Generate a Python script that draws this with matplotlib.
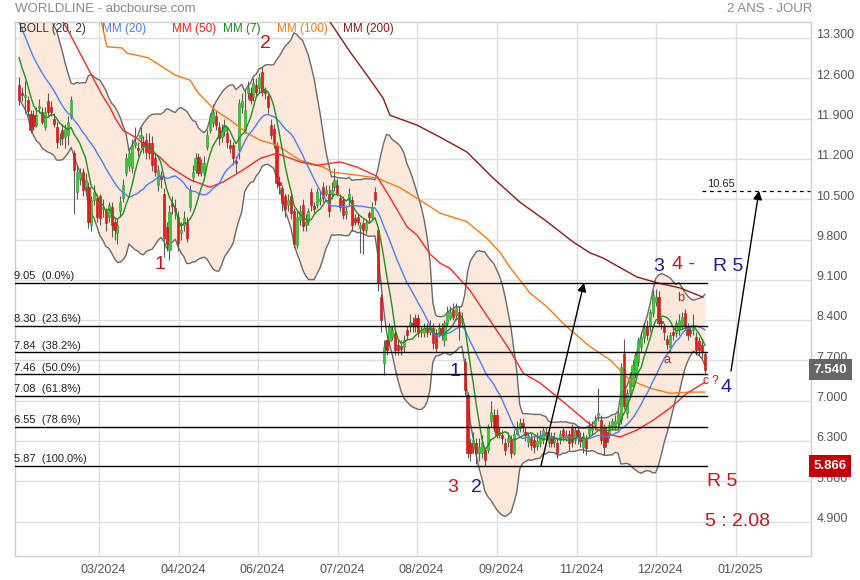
import numpy as np
import pandas as pd
import matplotlib
matplotlib.use("Agg")
import matplotlib.pyplot as plt
from matplotlib.transforms import ScaledTranslation

plt.rcParams['font.family'] = ['Liberation Sans', 'DejaVu Sans']

# ---------------- data ----------------
title = "WORLDLINE - abcbourse.com"
period = "2 ANS - JOUR"

# closes before the visible window (only used to warm up MA7 / MA20 / Bollinger)
prior_closes = [14.9, 14.7, 14.5, 14.3, 14.1, 13.9, 13.9, 13.7, 13.6, 13.5,
                13.4, 13.4, 13.2, 13.5, 13.3, 13.2, 13.0, 12.9, 12.6]

opens = [
    12.49, 12.33, 12.28, 12.23, 11.99, 11.96, 11.79, 12.08, 12.02, 11.75, 12.20, 12.11,
    11.90, 11.75, 11.54, 11.70, 11.58, 11.62, 11.93, 11.30, 10.63, 10.85, 10.98, 10.72,
    10.72, 10.05, 10.49, 10.52, 10.55, 10.33, 10.29, 10.20, 10.37, 10.11, 9.91, 10.29,
    10.52, 10.95, 11.07, 11.04, 11.45, 11.40, 11.56, 11.50, 11.53, 11.47, 11.47, 11.21,
    10.75, 10.90, 10.60, 10.02, 9.62, 10.43, 10.35, 10.20, 9.91, 10.05, 10.11, 10.37,
    10.89, 11.01, 11.24, 10.98, 10.95, 11.41, 11.71, 11.82, 11.94, 11.76, 11.59, 11.68,
    11.65, 11.44, 11.44, 11.17, 11.35, 12.11, 11.70, 12.34, 12.34, 12.28, 12.49, 12.43,
    12.72, 12.40, 12.30, 11.79, 11.73, 11.44, 10.80, 10.69, 10.55, 10.40, 10.55,
    10.29, 9.71, 10.14, 10.40, 10.05, 10.11, 10.63, 10.38, 10.40, 10.47, 10.72, 10.60,
    10.60, 10.60, 10.72, 10.75, 10.52, 10.49, 10.25, 10.49, 10.49, 10.17, 10.20, 10.00,
    10.08, 9.97, 10.26, 10.20, 10.63, 9.97, 8.81, 7.65, 8.06, 8.03, 8.11, 8.17,
    7.97, 7.95, 7.94, 8.23, 8.29, 8.35, 8.43, 8.43, 8.20, 8.17, 8.25, 8.20, 8.26, 8.17,
    8.20, 8.26, 8.06, 8.35, 8.43, 8.58, 8.49, 8.55, 8.37, 7.68, 7.10, 6.26,
    6.20, 6.26, 6.10, 6.09, 6.14, 6.14, 6.64, 6.75, 6.75, 6.40, 6.40, 6.26,
    6.29, 6.32, 6.09, 6.43, 6.52, 6.61, 6.45, 6.29, 6.35, 6.32, 6.22, 6.26,
    6.32, 6.46, 6.29, 6.38, 6.28, 6.26, 6.32, 6.49, 6.35, 6.43, 6.52, 6.32,
    6.49, 6.35, 6.20, 6.32, 6.43, 6.49, 6.58, 6.75, 6.67, 6.55, 6.46, 6.43,
    6.55, 6.55, 6.61, 6.67, 7.82, 6.78, 7.13, 7.25, 7.48, 7.68, 7.94, 8.09,
    8.29, 8.29, 8.52, 8.72, 8.81, 8.38, 8.30, 8.08, 7.94, 8.20, 8.17, 8.23,
    8.32, 8.52, 8.26, 8.23, 8.23, 8.11, 8.03, 7.97, 7.82]

closes = [
    12.23, 12.31, 12.30, 12.03, 11.71, 11.78, 11.96, 12.12, 11.85, 12.02, 12.02, 12.02,
    11.81, 11.50, 11.56, 11.56, 11.73, 11.85, 12.23, 11.01, 10.98, 10.95, 10.66, 10.84,
    10.11, 10.49, 10.63, 10.20, 10.17, 10.37, 10.08, 10.40, 10.05, 9.97, 10.05, 10.46,
    10.75, 11.21, 11.30, 11.44, 11.50, 11.35, 11.62, 11.42, 11.33, 11.30, 11.10, 10.98,
    11.01, 10.85, 9.82, 9.73, 10.28, 10.38, 10.30, 9.74, 9.97, 10.17, 9.82, 10.66,
    10.98, 11.21, 10.95, 11.13, 11.13, 11.62, 11.94, 12.02, 11.79, 11.56, 11.68, 11.79,
    11.50, 11.39, 11.21, 11.13, 12.17, 12.20, 12.05, 12.43, 12.23, 12.52, 12.37, 12.63,
    12.37, 12.34, 12.10, 11.62, 11.47, 10.78, 10.75, 10.43, 10.34, 10.49, 10.26,
    9.73, 10.20, 10.29, 10.03, 10.10, 10.29, 10.40, 10.33, 10.63, 10.50, 10.52, 10.66,
    10.29, 10.66, 10.84, 10.60, 10.37, 10.23, 10.30, 10.60, 10.05, 10.11, 10.11, 10.05,
    9.97, 10.08, 10.20, 10.37, 10.49, 9.04, 8.40, 7.94, 7.88, 8.29, 8.23, 7.88,
    7.88, 7.90, 8.06, 8.14, 8.37, 8.30, 8.29, 8.17, 8.23, 8.26, 8.20, 8.29, 8.00, 7.91,
    8.26, 8.14, 8.35, 8.55, 8.55, 8.46, 8.61, 8.32, 8.43, 7.19, 6.09, 6.09,
    6.32, 6.09, 6.20, 6.29, 5.97, 6.55, 6.81, 6.52, 6.40, 6.46, 6.35, 6.14,
    6.35, 6.09, 6.43, 6.55, 6.61, 6.55, 6.40, 6.35, 6.23, 6.20, 6.30, 6.38,
    6.49, 6.38, 6.38, 6.26, 6.33, 6.09, 6.43, 6.38, 6.40, 6.26, 6.29, 6.49,
    6.38, 6.30, 6.38, 6.17, 6.55, 6.55, 6.67, 6.78, 6.32, 6.20, 6.29, 6.58,
    6.64, 6.64, 6.78, 7.59, 6.90, 7.13, 7.42, 7.62, 7.79, 8.06, 8.11, 8.26,
    8.14, 8.55, 8.84, 8.81, 8.35, 8.35, 8.20, 7.99, 8.14, 8.14, 8.35, 8.40,
    8.46, 8.32, 8.14, 8.17, 8.29, 7.88, 7.88, 7.85, 7.54]

highs = [
    12.63, 12.45, 12.55, 12.30, 12.05, 12.05, 12.10, 12.25, 12.10, 12.10, 12.35, 12.20,
    12.00, 11.85, 11.65, 11.80, 11.80, 11.95, 12.30, 11.35, 11.10, 11.05, 11.05, 10.95,
    10.80, 10.55, 10.75, 10.60, 10.60, 10.50, 10.35, 10.45, 10.45, 10.20, 10.15, 10.55,
    10.85, 11.30, 11.40, 11.55, 11.75, 11.50, 11.75, 11.60, 11.65, 11.65, 11.60, 11.30,
    11.10, 11.00, 10.70, 10.10, 10.40, 10.55, 10.50, 10.30, 10.10, 10.30, 10.20, 10.75,
    11.10, 11.30, 11.30, 11.20, 11.25, 11.70, 12.00, 12.15, 12.05, 11.85, 11.80, 11.90,
    11.75, 11.55, 11.50, 11.25, 12.25, 12.35, 12.40, 12.55, 12.45, 12.60, 12.60, 12.70,
    12.80, 12.45, 12.35, 11.90, 11.80, 11.50, 10.90, 10.75, 10.60, 10.60, 10.65,
    10.35, 10.30, 10.40, 10.50, 10.25, 10.35, 10.70, 10.45, 10.70, 10.65, 10.80, 10.75,
    10.75, 10.80, 11.05, 10.85, 10.60, 10.55, 10.40, 10.70, 10.55, 10.25, 10.25, 10.10,
    10.15, 10.15, 10.30, 10.45, 10.72, 10.02, 8.85, 8.05, 8.15, 8.35, 8.30, 8.25,
    8.05, 8.05, 8.15, 8.30, 8.50, 8.45, 8.50, 8.50, 8.30, 8.35, 8.35, 8.40, 8.35, 8.25,
    8.35, 8.35, 8.40, 8.65, 8.65, 8.70, 8.70, 8.65, 8.55, 7.75, 7.15, 6.35,
    6.45, 6.35, 6.35, 6.40, 6.20, 6.60, 7.00, 6.85, 6.85, 6.55, 6.50, 6.35,
    6.45, 6.40, 6.50, 6.65, 6.70, 6.70, 6.55, 6.45, 6.45, 6.40, 6.45, 6.50,
    6.55, 6.55, 6.45, 6.45, 6.45, 6.35, 6.50, 6.55, 6.50, 6.50, 6.60, 6.55,
    6.55, 6.45, 6.45, 6.40, 6.65, 6.65, 6.75, 7.22, 6.75, 6.60, 6.55, 6.65,
    6.70, 6.75, 6.85, 7.65, 8.08, 7.20, 7.50, 7.70, 7.85, 8.10, 8.20, 8.35,
    8.40, 8.60, 8.92, 8.95, 8.90, 8.45, 8.35, 8.15, 8.20, 8.30, 8.40, 8.50,
    8.55, 8.60, 8.35, 8.30, 8.50, 8.20, 8.10, 8.05, 7.85]

lows = [
    12.13, 12.20, 12.00, 11.95, 11.65, 11.70, 11.75, 12.00, 11.80, 11.70, 11.95, 11.95,
    11.75, 11.40, 11.45, 11.45, 11.40, 11.45, 11.90, 10.25, 10.50, 10.75, 10.55, 10.65,
    10.00, 9.95, 10.40, 10.10, 10.05, 10.20, 9.95, 10.10, 9.85, 9.80, 9.72, 10.20,
    10.45, 10.90, 11.00, 10.95, 11.40, 11.25, 11.40, 11.30, 11.20, 11.20, 11.00, 10.90,
    10.65, 10.70, 9.50, 9.60, 9.45, 10.25, 10.15, 9.60, 9.80, 9.95, 9.75, 10.30,
    10.80, 10.95, 10.90, 10.90, 10.90, 11.35, 11.65, 11.75, 11.70, 11.45, 11.50, 11.60,
    11.40, 11.30, 11.10, 10.95, 11.20, 12.00, 11.65, 12.25, 12.15, 12.20, 12.30, 12.35,
    12.30, 12.25, 12.00, 11.55, 11.40, 10.70, 10.60, 10.30, 10.20, 10.30, 10.15,
    9.65, 9.65, 10.05, 9.95, 9.95, 10.05, 10.30, 10.25, 10.35, 10.40, 10.45, 10.55,
    10.20, 10.50, 10.65, 10.55, 10.30, 10.15, 10.15, 10.40, 9.95, 10.05, 10.05, 9.56,
    9.55, 9.90, 10.10, 10.15, 10.40, 8.90, 8.20, 7.45, 7.80, 7.95, 8.05, 7.80,
    7.80, 7.80, 7.85, 8.05, 8.20, 8.20, 8.20, 8.10, 8.10, 8.10, 8.10, 8.15, 7.90, 7.85,
    8.10, 8.05, 7.95, 8.30, 8.40, 8.40, 8.40, 8.05, 8.30, 7.10, 6.00, 5.95,
    6.10, 5.90, 5.95, 6.00, 5.87, 6.10, 6.55, 6.45, 6.35, 6.35, 6.25, 6.05,
    6.20, 6.00, 6.05, 6.40, 6.45, 6.45, 6.30, 6.20, 6.15, 6.10, 6.15, 6.20,
    6.25, 6.30, 6.20, 6.20, 6.20, 6.00, 6.25, 6.30, 6.30, 6.15, 6.20, 6.25,
    6.25, 6.20, 6.10, 6.05, 6.35, 6.40, 6.50, 6.65, 6.25, 6.05, 6.20, 6.35,
    6.50, 6.50, 6.55, 6.60, 6.85, 6.70, 7.05, 7.20, 7.40, 7.60, 7.85, 8.00,
    8.05, 8.20, 8.45, 8.65, 8.30, 8.25, 8.05, 7.90, 7.85, 8.05, 8.10, 8.15,
    8.25, 8.25, 8.05, 8.10, 8.15, 7.80, 7.80, 7.75, 7.45]

# long moving averages (candle index, value)
ma50_idx = [14.0, 15.2, 16.9, 23.8, 28.7, 31.4, 33.2, 35.9, 37.7, 40.8, 42.5, 45.3, 48.7,
            52.2, 59.1, 66.0, 70.5, 77.4, 83.3, 89.1, 97.1, 103.0, 110.9, 116.8, 123.7,
            128.9, 134.1, 137.5, 142.0, 145.5, 148.9, 155.8, 162.7, 169.6, 174.2, 180.0,
            185.9, 191.4, 196.3, 201.8, 207.7, 213.5, 219.1, 224.9, 230.8, 237.0]
ma50_val = [13.75, 13.58, 13.44, 12.78, 12.31, 12.10, 11.91, 11.70, 11.65, 11.56, 11.48,
            11.35, 11.23, 11.06, 10.84, 10.71, 10.80, 11.01, 11.21, 11.30, 11.15, 11.09,
            11.15, 11.06, 10.90, 10.47, 10.02, 9.88, 9.55, 9.39, 9.30, 8.92, 8.40, 7.88,
            7.48, 7.31, 7.07, 6.84, 6.63, 6.44, 6.37, 6.49, 6.66, 6.87, 7.13, 7.32]

ma100_idx = [27.8, 28.3, 30.4, 35.6, 37.3, 44.6, 48.7, 53.9, 59.1, 61.9, 67.7, 72.9, 78.8,
             83.3, 89.1, 97.1, 105.0, 108.5, 116.8, 123.7, 131.7, 137.5, 145.5, 154.8,
             161.7, 166.2, 169.6, 176.6, 182.5, 187.9, 193.8, 197.3, 204.2, 211.1, 218.0,
             224.9, 231.8, 237.0]
ma100_val = [13.75, 13.62, 13.15, 13.13, 13.04, 12.96, 12.83, 12.66, 12.57, 12.35, 12.05,
             11.88, 11.65, 11.53, 11.44, 11.18, 11.06, 10.97, 10.92, 10.87, 10.70, 10.52,
             10.26, 10.11, 9.82, 9.58, 9.32, 8.87, 8.63, 8.35, 8.09, 7.94, 7.71, 7.36,
             7.22, 7.13, 7.15, 7.15]

ma200_idx = [106.5, 107.5, 114.4, 120.2, 125.8, 128.2, 137.5, 145.5, 154.8, 163.8, 173.1,
             182.5, 191.4, 197.3, 201.8, 213.5, 220.5, 228.4, 236.3]
ma200_val = [13.70, 13.58, 13.06, 12.66, 12.26, 11.96, 11.79, 11.58, 11.32, 10.87, 10.45,
             10.11, 9.76, 9.57, 9.48, 9.15, 9.05, 8.96, 8.80]

fib_levels = [9.05, 8.30, 7.84, 7.46, 7.08, 6.55, 5.87]
fib_pcts = ["0.0%", "23.6%", "38.2%", "50.0%", "61.8%", "78.6%", "100.0%"]
target_level = 10.65
last_price = 7.540
low_tag = 5.866

xtick_labels = ["03/2024", "04/2024", "06/2024", "07/2024", "08/2024",
                "09/2024", "11/2024", "12/2024", "01/2025"]
ytick_values = [4.9, 5.6, 6.3, 7.0, 7.7, 8.4, 9.1, 9.8, 10.5, 11.2, 11.9, 12.6, 13.3]

# ---------------- layout helpers (pixel -> data) ----------------
def X(px):
    return (px - 19) / 2.894

def Y(py):
    return 10.5 - (py - 199.3) / 57.55

W, H = 860, 580
fig = plt.figure(figsize=(W / 100, H / 100), dpi=100)
ax = fig.add_axes([15 / W, (H - 556) / H, (811 - 15) / W, (556 - 22) / H])
ax.set_xlim(X(15), X(811))
ax.set_ylim(Y(556), Y(22))

# grid
xtick_px = [99, 179, 258, 338, 417, 497, 577, 656, 736]
xticks = [X(p) for p in xtick_px]
ax.set_xticks(xticks)
ax.set_xticklabels(xtick_labels)
ax.set_yticks(ytick_values)
ax.set_yticklabels([f"{v:.3f}" for v in ytick_values])
ax.grid(True, color='#dedede', lw=1, zorder=0)
ax.set_axisbelow(True)
ax.yaxis.tick_right()
ax.tick_params(axis='both', length=0, colors='#555555', labelsize=9)
ax.tick_params(axis='y', pad=4)
ax.tick_params(axis='x', pad=6)
for lab in ax.get_yticklabels():
    lab.set_transform(lab.get_transform() + ScaledTranslation(0, 3 / 72, fig.dpi_scale_trans))
for lab in ax.get_xticklabels():
    lab.set_fontsize(9)
    lab.set_transform(lab.get_transform() + ScaledTranslation(3 / 72, 0, fig.dpi_scale_trans))
for s in ax.spines.values():
    s.set_color('#cfcfcf')
    s.set_linewidth(1)

# indicators
n0 = len(prior_closes)
full = pd.Series(prior_closes + closes)
ma7 = full.rolling(7).mean().values[n0:]
ma20 = full.rolling(20).mean().values[n0:]
sd20 = full.rolling(20).std(ddof=0).values[n0:]
bb_up = ma20 + 2 * sd20
bb_lo = ma20 - 2 * sd20
idx = np.arange(len(closes))

ax.fill_between(idx, bb_lo, bb_up, color='#fde9dc', lw=0, zorder=1)
ax.plot(idx, bb_up, color='#6a6a6a', lw=1, zorder=2)
ax.plot(idx, bb_lo, color='#6a6a6a', lw=1, zorder=2)

# candles
o = np.array(opens); c = np.array(closes); h = np.array(highs); l = np.array(lows)
up = c >= o
ax.vlines(idx, l, h, color='#5a5a5a', lw=0.8, zorder=3)
bh = np.maximum(np.abs(c - o), 0.03)
bot = np.minimum(o, c)
ax.bar(idx[up], bh[up], bottom=bot[up], width=0.75, color='#33cc33',
       edgecolor='#1f9f1f', lw=0.4, zorder=4)
ax.bar(idx[~up], bh[~up], bottom=bot[~up], width=0.75, color='#e31b1b',
       edgecolor='#b31212', lw=0.4, zorder=4)

# moving averages
ax.plot(ma200_idx, ma200_val, color='#8b1c1c', lw=1, zorder=5)
ax.plot(ma100_idx, ma100_val, color='#ff7a10', lw=1, zorder=5)
ax.plot(ma50_idx, ma50_val, color='#ff2a2a', lw=1, zorder=5)
ax.plot(idx, ma20, color='#4a7dff', lw=1, zorder=5)
ax.plot(idx, ma7, color='#1f8f1f', lw=1, zorder=5)

# fibonacci levels
for lv, pct in zip(fib_levels, fib_pcts):
    ax.plot([X(15), X(707)], [lv, lv], color='black', lw=1, zorder=6)
    ax.text(X(14), lv + 0.03, f"{lv:.2f}  ({pct})", fontsize=8, color='#222222',
            ha='left', va='bottom', zorder=7)

# arrows / projections
ax.annotate('', xy=(X(584), fib_levels[0]), xytext=(X(541), fib_levels[-1]),
            arrowprops=dict(arrowstyle='-|>', color='black', lw=1, mutation_scale=13,
                            shrinkA=0, shrinkB=0), zorder=7)
ax.annotate('', xy=(X(759), target_level), xytext=(X(731), Y(371)),
            arrowprops=dict(arrowstyle='-|>', color='black', lw=1, mutation_scale=13,
                            shrinkA=0, shrinkB=0), zorder=7)
ax.plot([X(702), X(810)], [target_level, target_level], color='black', lw=0.9,
        dashes=(3, 3), zorder=6)
ax.text(X(707), target_level + 0.03, f"{target_level:.2f}", fontsize=8, color='#222222',
        ha='left', va='bottom')

# wave labels
red = '#c8141e'
navy = '#1c1c8a'
big = 14
def lab(px, py, s, col, size=big):
    ax.text(X(px), Y(py), s, color=col, fontsize=size, ha='center', va='center', zorder=8)

lab(160, 265, "1", red)
lab(265, 43, "2", red)
lab(455, 372, "1", navy)
lab(453, 487, "3", red)
lab(476, 487, "2", navy)
lab(659, 266, "3", navy)
lab(683, 265, "4 -", red)
lab(728, 266, "R 5", navy)
lab(681, 298, "b", red, 9)
lab(667, 360, "a", red, 9)
lab(711, 381, "c ?", red, 8.5)
lab(726, 387, "4", navy)
lab(722, 481, "R 5", red)
lab(737, 522, "5 : 2.08", red)

# legend row
legend_items = [("BOLL (20, 2)", '#333333', 19), ("MM (20)", '#4a7dff', 102),
                ("MM (50)", '#ff2020', 172), ("MM (7)", '#1a8a1a', 223),
                ("MM (100)", '#ff7f0e', 277), ("MM (200)", '#8b1a1a', 343)]
for txt, col, px in legend_items:
    ax.text(X(px), Y(29), txt, color=col, fontsize=8.5, ha='left', va='center', zorder=9)

# price tags on the right axis
for val, col in [(last_price, '#666666'), (low_tag, '#c00000')]:
    ax.annotate(f"{val:.3f}", xy=(1.003, val), xycoords=('axes fraction', 'data'),
                ha='left', va='center', color='white', fontsize=9.5, fontweight='bold',
                bbox=dict(boxstyle='square,pad=0.35', fc=col, ec='none'),
                annotation_clip=False, zorder=10)

# header
fig.text(15 / W, 1 - 9 / H, title, color='#8a8a8a', fontsize=9.5, ha='left', va='center')
fig.text(812 / W, 1 - 9 / H, period, color='#8a8a8a', fontsize=9.5, ha='right', va='center')

fig.savefig("out.png", dpi=100)
